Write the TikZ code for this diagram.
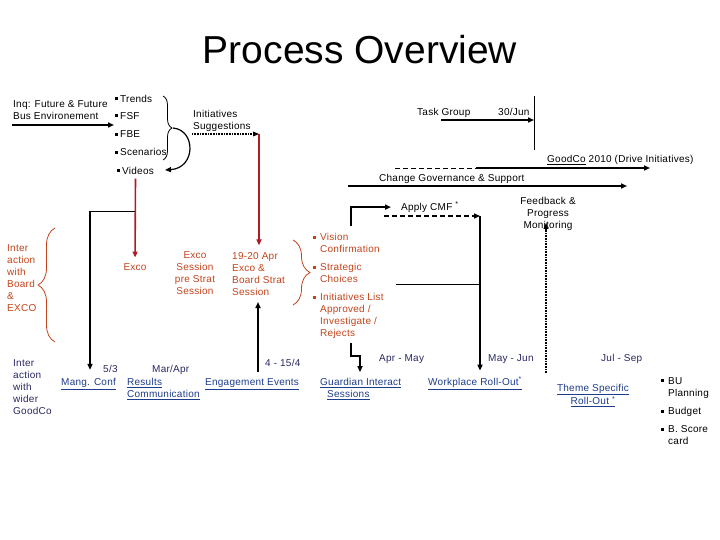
\documentclass[tikz,border=0pt]{standalone}
\usepackage{fontspec}
\setmainfont{Liberation Sans}
\usetikzlibrary{arrows.meta,decorations.pathreplacing}
\definecolor{redtxt}{RGB}{196,68,28}
\definecolor{redln}{RGB}{176,28,36}
\definecolor{bluetxt}{RGB}{30,60,140}
\definecolor{navytxt}{RGB}{40,40,100}
\newcommand{\sqb}{\raisebox{2pt}{\rule{3pt}{3pt}}}
\begin{document}
\begin{tikzpicture}[x=1pt,y=-1pt,
  txt/.style={inner sep=0pt,font=\fontsize{10}{12}\selectfont\addfontfeature{LetterSpace=2.5}},
  bl/.style={txt,anchor=base west},
  ml/.style={txt,anchor=north west,align=left},
  mc/.style={txt,anchor=north,align=center},
  redt/.style={text=redtxt},
  bluet/.style={text=bluetxt},
  navyt/.style={text=navytxt},
  tip/.style={-{Triangle[length=6pt,width=5pt]}},
  arr/.style={tip,line width=1.6pt},
  thinln/.style={line width=0.8pt},
  redarr/.style={tip,line width=1.6pt,draw=redln,fill=redln},
  dotln/.style={line width=1.2pt,dash pattern=on 0.8pt off 0.8pt},
  dashln/.style={dash pattern=on 5pt off 3pt},
  bracedec/.style={decorate,decoration={brace,amplitude=#1}},
]
\useasboundingbox[fill=white] (0,0) rectangle (720,540);

% title
\node[inner sep=0pt,font=\fontsize{39}{44}\selectfont] (title) at (360,50) {Process Overview};

% top left
\node[ml] (inq) at (13,100.4) {Inq: Future \& Future\\Bus Environement};
\node[bl] (trends) at (115,102.3) {\sqb\hspace{2pt}Trends};
\node[bl] (fsf) at (115,119.3) {\sqb\hspace{2pt}FSF};
\node[bl] (fbe) at (115,137.6) {\sqb\hspace{2pt}FBE};
\node[bl] (scen) at (115,155.6) {\sqb\hspace{2pt}Scenarios};
\node[bl] (videos) at (117,174.3) {\sqb\hspace{2pt}Videos};
\node[ml] (initsug) at (193,110.4) {Initiatives\\Suggestions};

% top right
\node[bl] (taskgroup) at (417,115.3) {Task Group};
\node[bl] (jun) at (498,115.3) {30/Jun};
\node[bl] (goodco) at (547,162.6) {\underline{GoodCo} 2010 (Drive Initiatives)};
\node[bl] (change) at (379,181.3) {Change Governance \& Support};
\node[bl] (apply) at (401,210.3) {Apply CMF \textsuperscript{*}};
\node[mc] (feedback) at (548,197) {Feedback \&\\Progress\\Monitoring};

% middle red
\node[ml,redt] (interboard) at (7,244.4) {Inter\\action\\with\\Board\\\&\\EXCO};
\node[txt,redt,anchor=base] (exco) at (135,270.6) {Exco};
\node[mc,redt] (excosession) at (195,251.4) {Exco\\Session\\pre Strat\\Session};
\node[ml,redt] (apr1920) at (232,252.4) {19-20 Apr\\Exco \&\\Board Strat\\Session};
\node[ml,redt] (vision) at (320,233.1) {\llap{\sqb\hspace{4pt}}Vision\\Confirmation};
\node[ml,redt] (strategic) at (320,263.1) {\llap{\sqb\hspace{4pt}}Strategic\\Choices};
\node[ml,redt] (initlist) at (320,293.1) {\llap{\sqb\hspace{4pt}}Initiatives List\\Approved /\\Investigate /\\Rejects};

% bottom row
\node[ml,navyt] (wider) at (13,359.7) {Inter\\action\\with\\wider\\GoodCo};
\node[bl,bluet] (mang) at (61,385.3) {\underline{Mang. Conf}};
\node[bl,navyt] (d53) at (103,372.6) {5/3};
\node[bl,navyt] (marapr) at (152,372.6) {Mar/Apr};
\node[ml,bluet] (results) at (127,378.1) {\underline{Results}\\\underline{Communication}};
\node[bl,bluet] (eng) at (205,385.3) {\underline{Engagement Events}};
\node[bl,navyt] (d415) at (265,366.3) {4 - 15/4};
\node[ml,bluet] (guardian) at (320,378.1) {\underline{Guardian Interact}\\\hspace{7pt}\underline{Sessions}};
\node[bl,navyt] (aprmay) at (379,361.3) {Apr - May};
\node[bl,bluet] (workplace) at (428,385.3) {\underline{Workplace Roll-Out\textsuperscript{*}}};
\node[bl,navyt] (mayjun) at (488,361.3) {May - Jun};
\node[bl,navyt] (julsep) at (601,361.3) {Jul - Sep};
\node[mc,bluet] (theme) at (593,383.7) {\underline{Theme Specific}\\\underline{Roll-Out \textsuperscript{*}}};
\node[ml] (bu) at (668,377.1) {\llap{\sqb\hspace{4pt}}BU\\Planning};
\node[ml] (budget) at (668,407.1) {\llap{\sqb\hspace{4pt}}Budget};
\node[ml] (bscore) at (668,425.4) {\llap{\sqb\hspace{4pt}}B. Score\\card};

% coordinates
\coordinate (inq0) at (12,125);
\coordinate (b1t) at (163,96);
\coordinate (b1b) at (163,160);
\coordinate (b1tip) at (173,128);
\coordinate (vidtip) at (165,170);
\coordinate (is0) at (192,134);
\coordinate (redtop) at (259,134);
\coordinate (br) at (135,211);
\coordinate (mcorner) at (90,211);
\coordinate (ee) at (258,372);
\coordinate (eetip) at (258,302);
\coordinate (v0) at (351,226);
\coordinate (cmf0) at (384,216);
\coordinate (wtop) at (480,216);
\coordinate (sc0) at (396,284);
\coordinate (fb0) at (546,373);
\coordinate (fbtip) at (546,223);
\coordinate (tg0) at (441,120);
\coordinate (tgv1) at (534,96);
\coordinate (tgv2) at (534,150);
\coordinate (gc0) at (395,168);
\coordinate (gc1) at (476,168);
\coordinate (gc2) at (650,168);
\coordinate (cg0) at (348,186);
\coordinate (cg1) at (627,186);
\coordinate (rj0) at (351,343);
\coordinate (rj1) at (360,356);

% connectors
\draw[arr,shorten >=1pt] (inq0) -- (inq0 -| fsf.west);
\draw[thinln,bracedec=9pt] (b1t) -- (b1b);
\draw[tip,line width=1.2pt] (b1tip) .. controls (196,130) and (196,168) .. (vidtip);
\draw[dotln] (is0) -- ([xshift=-5pt]redtop);
\fill (redtop) -- ++(-6,-2.5) -- ++(0,5) -- cycle;
\draw[redarr,shorten >=7pt] (redtop) -- (redtop |- apr1920.north);
\draw[redarr,shorten <=4pt,shorten >=6pt] (videos.south) -- (exco.north);
\draw[thinln] (br) -- (mcorner);
\draw[arr,shorten >=8pt] (mcorner) -- (mcorner |- mang.north);
\draw[arr] (ee) -- (eetip);

\draw[thinln,draw=redtxt,bracedec=17pt] (55,342) -- (55,228);
\draw[thinln,draw=redtxt,bracedec=17pt] (293,240) -- (293,305);

\draw[arr,shorten >=10pt] (v0) |- (apply.west);
\draw[arr,dashln] (cmf0) -- (wtop);
\draw[arr,shorten >=6pt] (wtop) -- (wtop |- workplace.north);
\draw[thinln] (sc0) -- (sc0 -| wtop);
\draw[dotln,-{Triangle[length=6pt,width=5pt]}] (fb0) -- (fbtip);

\draw[thinln] (tgv1) -- (tgv2);
\draw[arr] (tg0) -- (tg0 -| tgv1);
\draw[thinln,dashln] (gc0) -- (gc1);
\draw[arr] (gc1) -- (gc2);
\draw[arr] (cg0) -- (cg1);
\draw[arr,shorten >=6pt] (rj0) |- (rj1) -- (rj1 |- guardian.north);
\end{tikzpicture}
\end{document}
